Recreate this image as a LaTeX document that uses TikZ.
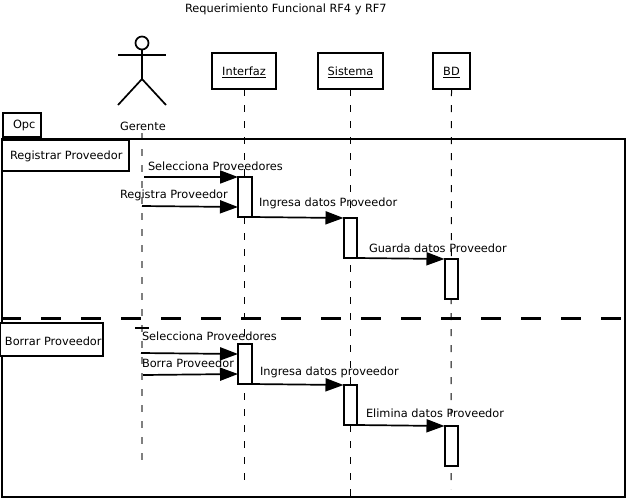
\documentclass[tikz,border=0pt]{standalone}
\usepackage{fontspec}
\setmainfont{DejaVu Sans}
\usetikzlibrary{arrows.meta}
\newcommand{\labfont}{\fontsize{11.35}{13}\selectfont}
\tikzset{
  every node/.style={outer sep=0pt},
  box/.style={draw=black,line width=2pt,fill=white,inner sep=0pt,anchor=north west},
  headbox/.style={box,minimum height=36pt,font=\labfont,text height=11pt,text depth=2pt},
  lab/.style={inner sep=0pt,font=\labfont,anchor=west,yshift=-1pt},
  life/.style={draw=black,line width=1pt,dash pattern=on 7pt off 9pt},
  glife/.style={draw=black!50,line width=1.4pt,dash pattern=on 7pt off 9pt},
  msg/.style={draw=black,line width=1.7pt,-{Triangle[length=18pt,width=13pt]},shorten >=0pt},
  ink/.style={draw=black,line width=1.7pt},
}
\newcommand{\actbox}[3]{\node[box,minimum width=13.5pt,minimum height=40pt] (#1) at (#2,#3) {};}
\begin{document}
\begin{tikzpicture}[x=1pt,y=-1pt]
\useasboundingbox (0,0) rectangle (629,499);
% lifelines
\node[headbox,minimum width=64pt] (interfaz) at (212,53) {\underline{Interfaz}};
\node[headbox,minimum width=65pt] (sistema) at (318,53) {\underline{Sistema}};
\node[headbox,minimum width=37pt] (bd) at (433,53) {\underline{BD}};
\coordinate (gtop) at (142,133);
\coordinate (gend) at (142,463);
\coordinate (iend) at (244,489);
\coordinate (send) at (350.5,497);
\coordinate (bend) at (451,489);
\draw[glife] (gtop) -- (gend);
\draw[life] (interfaz.south) -- (iend);
\draw[life] (sistema.south) -- (send);
\draw[life] (bd.south) -- (bend);
% frame
\node[draw=black,line width=2pt,inner sep=0pt,anchor=north west,minimum width=623pt,minimum height=358pt] (frame) at (2,139) {};
\node[box,minimum width=38pt,minimum height=24pt] (opc) at (3,113) {};
\node[lab] (opct) at (13,124) {Opc};
\node[box,minimum width=127pt,minimum height=31pt] (reg) at (2,140) {};
\node[lab] (regt) at (10,155) {Registrar Proveedor};
\node[box,minimum width=103pt,minimum height=33pt] (bor) at (0,323) {};
\node[lab] (bort) at (5,340) {Borrar Proveedor};
% divider
\coordinate (dl) at (1,318.5);
\coordinate (dr) at (629,318.5);
\draw[draw=black,line width=2.2pt,dash pattern=on 20pt off 20pt] (dl) -- (dr);
\coordinate (t1) at (135,328);
\coordinate (t2) at (149,328);
\draw[ink] (t1) -- (t2);
% actor
\node[draw=black,circle,line width=1.7pt,minimum size=13pt,inner sep=0pt] (head) at (142,43) {};
\coordinate (hip) at (142,79);
\coordinate (al) at (118,55);
\coordinate (ar) at (166,55);
\coordinate (ll) at (118,105);
\coordinate (lr) at (166,105);
\draw[ink] (head) -- (hip);
\draw[ink] (al) -- (ar);
\draw[ink] (ll) -- (hip) -- (lr);
% activations
\actbox{a1}{238}{177}
\actbox{a2}{343.5}{218}
\actbox{a3}{444.5}{259}
\actbox{a4}{238}{344}
\actbox{a5}{343.5}{385}
\actbox{a6}{444.5}{426}
% messages
\coordinate (m1) at (144,177);
\coordinate (m2) at (142,206);
\coordinate (m2e) at (238,207);
\coordinate (m4) at (141,353);
\coordinate (m4e) at (238,354);
\coordinate (m5) at (143,375);
\coordinate (m5e) at (238,374);
\draw[msg] (m1) -- (a1.north west);
\draw[msg] (m2) -- (m2e);
\draw[msg] (a1.south east) -- (a2.north west);
\draw[msg] (a2.south east) -- (a3.north west);
\draw[msg] (m4) -- (m4e);
\draw[msg] (m5) -- (m5e);
\draw[msg] (a4.south east) -- (a5.north west);
\draw[msg] (a5.south east) -- (a6.north west);
% labels
\node[lab] (title) at (185,8.5) {Requerimiento Funcional RF4 y RF7};
\node[lab] (ger) at (120,125) {Gerente};
\node[lab] (l1) at (148,165) {Selecciona Proveedores};
\node[lab] (l2) at (120,194) {Registra Proveedor};
\node[lab] (l3) at (259,202) {Ingresa datos Proveedor};
\node[lab] (l4) at (369,247) {Guarda datos Proveedor};
\node[lab] (l5) at (142,335) {Selecciona Proveedores};
\node[lab] (l6) at (142,362) {Borra Proveedor};
\node[lab] (l7) at (260,371) {Ingresa datos proveedor};
\node[lab] (l8) at (366,412) {Elimina datos Proveedor};
\end{tikzpicture}
\end{document}
